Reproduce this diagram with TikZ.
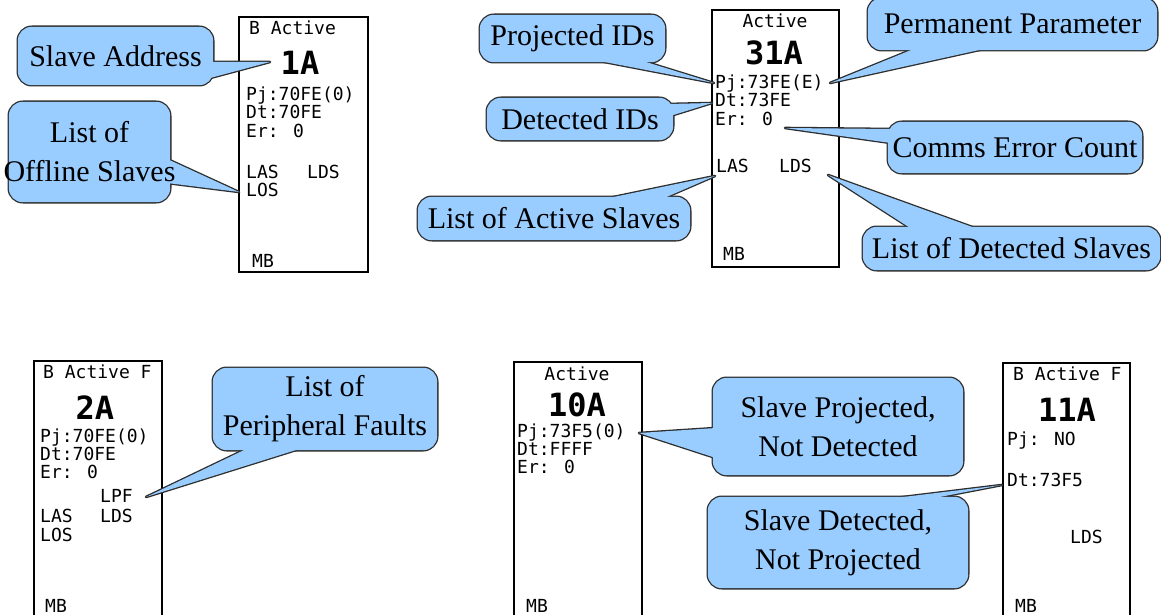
\documentclass[tikz,border=0pt]{standalone}
\usepackage{fontspec}
\setmainfont{Liberation Serif}
\newfontfamily\lcdfont{DejaVu Sans Mono}
\usepackage{xcolor}
\usepackage{tikz}
\usetikzlibrary{positioning, calc, backgrounds}
\definecolor{bubbleblue}{RGB}{153, 204, 255}
\definecolor{bubbleline}{RGB}{45, 45, 45}
\pgfdeclarelayer{bubblerim}
\pgfdeclarelayer{bubblebody}
\pgfsetlayers{background,bubblerim,bubblebody,main}

% callout: #1 = text node, #2 = pointer path
\newcommand{\bubble}[2]{%
  \begin{pgfonlayer}{bubblerim}
    \draw[rim, rounded corners=14pt] (#1.south west) rectangle (#1.north east);
    \draw[rim] #2 -- cycle;
  \end{pgfonlayer}
  \begin{pgfonlayer}{bubblebody}
    \fill[body, rounded corners=14pt] (#1.south west) rectangle (#1.north east);
    \fill[body] #2 -- cycle;
  \end{pgfonlayer}}

\begin{document}
\begin{tikzpicture}[
  x=1pt, y=-1pt,
  screen/.style={draw=black, line width=1.3pt, fill=white, inner sep=0pt,
                 minimum width=128pt},
  lcd/.style={font=\lcdfont\fontsize{18}{18}\selectfont, inner sep=0pt,
              anchor=base west},
  lcdc/.style={lcd, anchor=base},
  addr/.style={font=\lcdfont\bfseries\fontsize{32}{32}\selectfont,
               inner sep=0pt, anchor=base},
  bubble/.style={font=\fontsize{30}{39}\selectfont, align=center,
                 inner xsep=-20pt, inner ysep=0pt},
  rim/.style={draw=bubbleline, line width=2.6pt, line join=round},
  body/.style={fill=bubbleblue}
]
\useasboundingbox (0,0) rectangle (1161,615);

% ── Screens ─────────────────────────────────────────────────────────────────
\begin{scope}[on background layer]
  \fill[white] (0,0) rectangle (1161,615);
  \node[screen, minimum width=129pt, minimum height=255pt] (scra) at (303.5,144.5) {};
  \node[screen, minimum width=127pt, minimum height=257pt] (scrb) at (775.5,138.5) {};
  \node[screen, minimum height=269pt] (scrc) at (98,495.5) {};
  \node[screen, minimum height=268pt] (scrd) at (578,496) {};
  \node[screen, minimum width=127pt, minimum height=267pt] (scre) at (1066.5,496.5) {};
\end{scope}

% screen A
\node[lcd]  (hdra) at (249,35)  {B Active};
\node[addr] (adra) at (300,75)  {1A};
\node[lcd]  (pja)  at (246,101) {Pj:70FE(0)};
\node[lcd]  (dta)  at (246,119) {Dt:70FE};
\node[lcd]  (era)  at (246,137) {Er: 0};
\node[lcd]  (lasa) at (246,178) {LAS};
\node[lcd]  (ldsa) at (307,178) {LDS};
\node[lcd]  (losa) at (246,196) {LOS};
\node[lcd]  (mba)  at (252,267) {MB};

% screen B
\node[lcdc] (hdrb) at (775,28)  {Active};
\node[addr] (adrb) at (774,65)  {31A};
\node[lcd]  (pjb)  at (715,89)  {Pj:73FE(E)};
\node[lcd]  (dtb)  at (715,107) {Dt:73FE};
\node[lcd]  (erb)  at (715,125) {Er: 0};
\node[lcd]  (lasb) at (716,172) {LAS};
\node[lcd]  (ldsb) at (779,172) {LDS};
\node[lcd]  (mbb)  at (723,260) {MB};

% screen C
\node[lcd]  (hdrc) at (43,378)  {B Active F};
\node[addr] (adrc) at (95,419)  {2A};
\node[lcd]  (pjc)  at (40,442)  {Pj:70FE(0)};
\node[lcd]  (dtc)  at (40,460)  {Dt:70FE};
\node[lcd]  (erc)  at (40,478)  {Er: 0};
\node[lcd]  (lpfc) at (100,502) {LPF};
\node[lcd]  (lasc) at (40,522)  {LAS};
\node[lcd]  (ldsc) at (100,522) {LDS};
\node[lcd]  (losc) at (40,541)  {LOS};
\node[lcd]  (mbc)  at (45,612)  {MB};

% screen D
\node[lcdc] (hdrd) at (577,380) {Active};
\node[addr] (adrd) at (577,416) {10A};
\node[lcd]  (pjd)  at (517,437) {Pj:73F5(0)};
\node[lcd]  (dtd)  at (517,455) {Dt:FFFF};
\node[lcd]  (erd)  at (517,473) {Er: 0};
\node[lcd]  (mbd)  at (526,612) {MB};

% screen E
\node[lcd]  (hdre) at (1013,380) {B Active F};
\node[addr] (adre) at (1067,421) {11A};
\node[lcd]  (pje)  at (1007,445) {Pj: NO};
\node[lcd]  (dte)  at (1007,486) {Dt:73F5};
\node[lcd]  (ldse) at (1070,543) {LDS};
\node[lcd]  (mbe)  at (1015,612) {MB};

% ── Pointer tips ────────────────────────────────────────────────────────────
\coordinate (tipaddr)  at (270,62);
\coordinate (tiplos)   at (239,192);
\coordinate (tippj)    at (714,83);
\coordinate (tipdt)    at (712,103);
\coordinate (tiplas)   at (715,176);
\coordinate (tipperm)  at (830,83);
\coordinate (tiper)    at (785,128);
\coordinate (tiplds)   at (828,175);
\coordinate (tiplpf)   at (146,497);
\coordinate (tipnodet) at (639,433);
\coordinate (tipnoprj) at (1002,485);

% ── Callouts ────────────────────────────────────────────────────────────────
\node[bubble, minimum width=195pt, minimum height=58pt] (slaveaddr)
  at (115.5,56) {Slave Address};
\bubble{slaveaddr}{($(slaveaddr.east)+(-3,6)$) -- (tipaddr) -- ($(slaveaddr.east)+(-3,22)$)}

\node[bubble, minimum width=161pt, minimum height=100pt] (offline)
  at (89.5,152) {List of\\Offline Slaves};
\bubble{offline}{($(offline.east)+(-3,7)$) -- (tiplos) -- ($(offline.east)+(-3,31)$)}

\node[bubble, minimum width=185pt, minimum height=47pt] (projids)
  at (572.5,38.5) {Projected IDs};
\bubble{projids}{($(projids.south)+(17.5,-3)$) -- (tippj) -- ($(projids.south)+(64.5,-3)$)}

\node[bubble, minimum width=186pt, minimum height=42pt] (detids)
  at (580,119) {Detected IDs};
\bubble{detids}{($(detids.east)+(-5,-15)$) -- (tipdt) -- ($(detids.east)+(-3,-3)$)}

\node[bubble, minimum width=272pt, minimum height=43pt] (actslaves)
  at (554,218.5) {List of Active Slaves};
\bubble{actslaves}{($(actslaves.north)+(46,3)$) -- (tiplas) -- ($(actslaves.north)+(106,3)$)}

\node[bubble, minimum width=289pt, minimum height=52pt] (permparam)
  at (1012.5,24) {Permanent Parameter};
\bubble{permparam}{($(permparam.south)+(-94.5,-3)$) -- (tipperm) -- ($(permparam.south)+(-20.5,-3)$)}

\node[bubble, minimum width=254pt, minimum height=51pt] (commserr)
  at (1015,147.5) {Comms Error Count};
\bubble{commserr}{($(commserr.west)+(4,-18.5)$) -- (tiper) -- ($(commserr.west)+(3,-4.5)$)}

\node[bubble, minimum width=297pt, minimum height=43pt] (detslaves)
  at (1011.5,248.5) {List of Detected Slaves};
\bubble{detslaves}{($(detslaves.north)+(-98.5,3)$) -- (tiplds) -- ($(detslaves.north)+(-31.5,3)$)}

\node[bubble, minimum width=224pt, minimum height=82pt] (perfaults)
  at (325,409) {List of\\Peripheral Faults};
\bubble{perfaults}{($(perfaults.south)+(-75,-3)$) -- (tiplpf) -- ($(perfaults.south)+(-20,-3)$)}

\node[bubble, minimum width=250pt, minimum height=97pt] (projnodet)
  at (838,426.5) {Slave Projected,\\Not Detected};
\bubble{projnodet}{($(projnodet.west)+(3,1.5)$) -- (tipnodet) -- ($(projnodet.west)+(3,31.5)$)}

\node[bubble, minimum width=260pt, minimum height=91pt] (detnoprj)
  at (838,542.5) {Slave Detected,\\Not Projected};
\bubble{detnoprj}{($(detnoprj.north)+(42,3)$) -- (tipnoprj) -- ($(detnoprj.north)+(87,3)$)}

\end{tikzpicture}
\end{document}
